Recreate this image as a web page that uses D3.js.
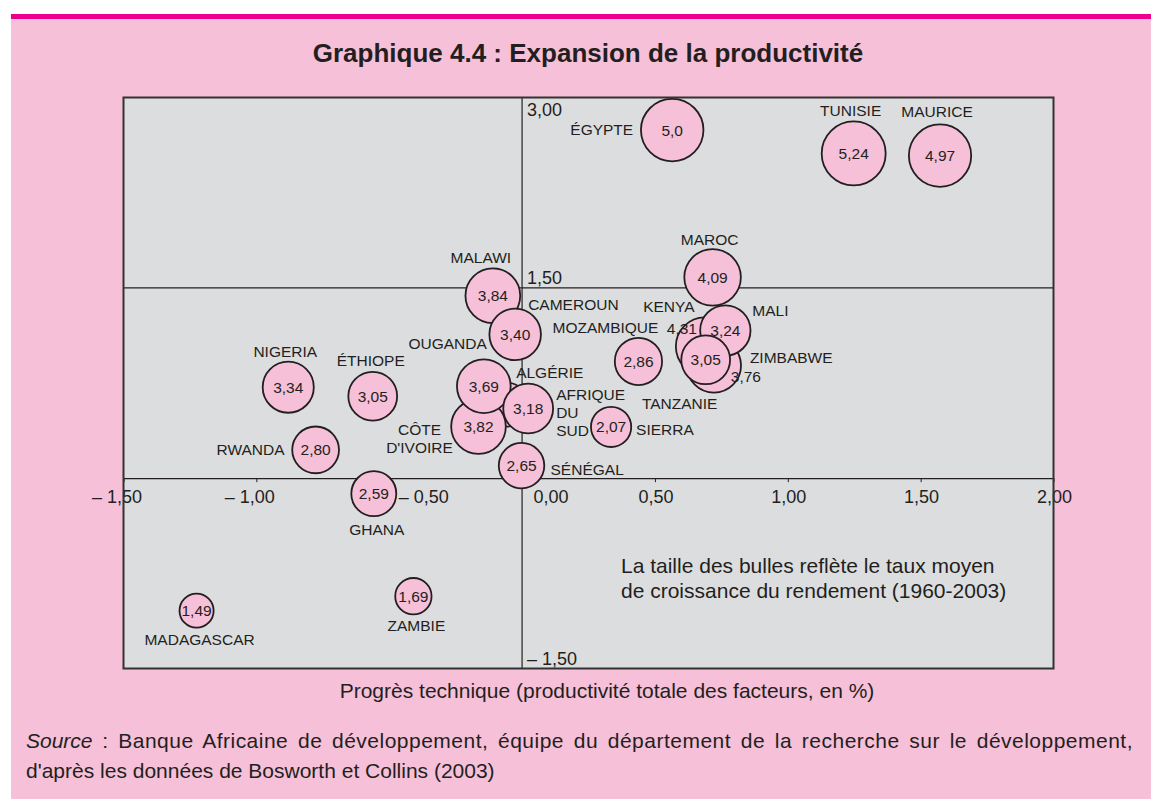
<!DOCTYPE html>
<html>
<head>
<meta charset="utf-8">
<script src="https://cdn.jsdelivr.net/npm/d3@7"></script>
<style>
  body { margin: 0; background: #fff; }
  svg text { font-family: "Liberation Sans", Arial, sans-serif; fill: #231f20; }
</style>
</head>
<body>
<div id="chart"></div>
<script>
// data
const countries = ["ALGÉRIE", "KENYA", "ZIMBABWE", "MALI", "TANZANIE", "ÉGYPTE", "TUNISIE", "MAURICE",
  "MAROC", "MALAWI", "CAMEROUN", "MOZAMBIQUE", "NIGERIA", "ÉTHIOPE", "CÔTE\nD'IVOIRE", "OUGANDA",
  "AFRIQUE\nDU\nSUD", "RWANDA", "SÉNÉGAL", "SIERRA", "GHANA", "MADAGASCAR", "ZAMBIE"];
// technical progress (TFP, %)
const tfp = [-0.06, 0.688, 0.722, 0.765, 0.691, 0.565, 1.248, 1.573,
  0.717, -0.11, -0.026, 0.438, -0.88, -0.562, -0.164, -0.144,
  0.023, -0.777, -0.002, 0.335, -0.558, -1.225, -0.409];
// vertical axis values
const capital = [0.58, 1.038, 0.888, 1.164, 0.933, 2.743, 2.559, 2.542,
  1.583, 1.438, 1.133, 0.92, 0.717, 0.646, 0.407, 0.725,
  0.549, 0.223, 0.099, 0.404, -0.122, -1.044, -0.93];
// average output growth 1960-2003 (bubble size)
const growth = [2.5, 4.31, 3.76, 3.24, 3.05, 5.0, 5.24, 4.97,
  4.09, 3.84, 3.40, 2.86, 3.34, 3.05, 3.82, 3.69,
  3.18, 2.80, 2.65, 2.07, 2.59, 1.49, 1.69];
const growthLabels = ["", "4,31", "3,76", "3,24", "3,05", "5,0", "5,24", "4,97",
  "4,09", "3,84", "3,40", "2,86", "3,34", "3,05", "3,82", "3,69",
  "3,18", "2,80", "2,65", "2,07", "2,59", "1,49", "1,69"];

const xTicks = [-1.5, -1, -0.5, 0, 0.5, 1, 1.5, 2];
const xTickLabels = ["– 1,50", "– 1,00", "– 0,50", "0,00", "0,50", "1,00", "1,50", "2,00"];
const yTicks = [3, 1.5, -1.5];
const yTickLabels = ["3,00", "1,50", "– 1,50"];

// label placement (pixels from bubble centre): [dx, dy, anchor]
const labelPos = {
  "ALGÉRIE": [10, -27, "start"], "KENYA": [-36, -34, "middle"], "ZIMBABWE": [36, -2, "start"],
  "MALI": [27, -14, "start"], "TANZANIE": [-26, 49, "middle"], "ÉGYPTE": [-39, 5, "end"],
  "TUNISIE": [-3, -37, "middle"], "MAURICE": [-3, -39, "middle"], "MAROC": [-3, -32, "middle"],
  "MALAWI": [-12, -33, "middle"], "CAMEROUN": [13, -24, "start"], "MOZAMBIQUE": [-33, -28, "middle"],
  "NIGERIA": [-3, -30, "middle"], "ÉTHIOPE": [-2, -30, "middle"], "CÔTE\nD'IVOIRE": [-59, 8, "middle"],
  "OUGANDA": [3, -37, "end"], "AFRIQUE\nDU\nSUD": [28, -9, "start"], "RWANDA": [-31, 5, "end"],
  "SÉNÉGAL": [29, 9, "start"], "SIERRA": [25, 8, "start"], "GHANA": [3, 41, "middle"],
  "MADAGASCAR": [3, 34, "middle"], "ZAMBIE": [3, 35, "middle"]
};
const valueShift = { "KENYA": [-23, -18], "ZIMBABWE": [32, 11] };
const xLabelShift = { "-0.5": 41, "0": 28 };

const width = 1151, height = 799;
const pink = "#f6c0d8", magenta = "#ec008c", ink = "#231f20";

const svg = d3.select("#chart").append("svg")
  .attr("width", width)
  .attr("height", height);

svg.append("rect").attr("x", 11).attr("y", 14).attr("width", width - 11).attr("height", height - 14).attr("fill", pink);
svg.append("rect").attr("x", 11).attr("y", 14).attr("width", width - 11).attr("height", 5).attr("fill", magenta);

svg.append("text")
  .attr("x", 588).attr("y", 62)
  .attr("text-anchor", "middle")
  .style("font-size", "26px").style("font-weight", "bold")
  .text("Graphique 4.4 : Expansion de la productivité");

const x = d3.scaleLinear().domain([-1.5, 2]).range([123.5, 1053.5]);
const y = d3.scaleLinear().domain([-1.5, 3]).range([668.5, 97.5]);
const r = d3.scaleSqrt().domain([0, 5.24]).range([0, 32]);

// plot background
svg.append("rect")
  .attr("x", x(-1.5)).attr("y", y(3))
  .attr("width", x(2) - x(-1.5)).attr("height", y(-1.5) - y(3))
  .attr("fill", "#dcdddf");

// reference lines
svg.append("line").attr("x1", x(-1.5)).attr("x2", x(2)).attr("y1", y(1.5)).attr("y2", y(1.5))
  .attr("stroke", ink).attr("stroke-width", 1.2);
svg.append("line").attr("x1", x(0)).attr("x2", x(0)).attr("y1", y(3)).attr("y2", y(-1.5))
  .attr("stroke", ink).attr("stroke-width", 1.2);

const xAxis = svg.append("g")
  .attr("transform", `translate(0,${y(0)})`)
  .call(d3.axisBottom(x).tickValues(xTicks).tickSize(4).tickSizeOuter(0)
    .tickFormat((d, i) => xTickLabels[i]));
xAxis.select(".domain").attr("stroke", ink).attr("stroke-width", 1.2);
xAxis.selectAll(".tick line").attr("stroke", ink);
xAxis.selectAll(".tick text")
  .attr("text-anchor", "end")
  .attr("x", d => 18 + (xLabelShift[String(d)] || 0))
  .attr("y", 25).attr("dy", null)
  .style("font-size", "18px").attr("fill", ink);

svg.selectAll(".ylab")
  .data(yTicks)
  .join("text")
  .attr("class", "ylab")
  .attr("x", x(0) + 5)
  .attr("y", d => d === 3 ? y(d) + 18 : y(d) - 4)
  .style("font-size", "18px")
  .text((d, i) => yTickLabels[i]);

// bubbles
const points = countries.map((c, i) => ({ name: c, tfp: tfp[i], cap: capital[i], g: growth[i], label: growthLabels[i] }));

const bubble = svg.selectAll(".bubble")
  .data(points)
  .join("g")
  .attr("class", "bubble")
  .attr("transform", d => `translate(${x(d.tfp)},${y(d.cap)})`);

bubble.append("circle")
  .attr("r", d => r(d.g))
  .attr("fill", pink)
  .attr("stroke", ink)
  .attr("stroke-width", 1.8);

bubble.append("text")
  .attr("text-anchor", "middle")
  .attr("x", d => (valueShift[d.name] || [0, 0])[0])
  .attr("y", d => (valueShift[d.name] || [0, 0])[1])
  .attr("dy", "0.35em")
  .style("font-size", "15.5px")
  .text(d => d.label);

// country names
const names = svg.selectAll(".name")
  .data(points)
  .join("text")
  .attr("class", "name")
  .attr("text-anchor", d => labelPos[d.name][2])
  .style("font-size", "15.5px");

names.selectAll("tspan")
  .data(d => d.name.split("\n").map((s, k) => ({ s, k, d })))
  .join("tspan")
  .attr("x", t => x(t.d.tfp) + labelPos[t.d.name][0])
  .attr("y", t => y(t.d.cap) + labelPos[t.d.name][1] + t.k * 18.3)
  .text(t => t.s);

// plot frame
svg.append("rect")
  .attr("x", x(-1.5)).attr("y", y(3))
  .attr("width", x(2) - x(-1.5)).attr("height", y(-1.5) - y(3))
  .attr("fill", "none").attr("stroke", "#333").attr("stroke-width", 2);

const note = svg.append("text").attr("x", 621).style("font-size", "21px");
note.append("tspan").attr("x", 621).attr("y", 573).text("La taille des bulles reflète le taux moyen");
note.append("tspan").attr("x", 621).attr("y", 598).text("de croissance du rendement (1960-2003)");

svg.append("text")
  .attr("x", 607).attr("y", 698)
  .attr("text-anchor", "middle")
  .style("font-size", "21px")
  .text("Progrès technique (productivité totale des facteurs, en %)");

// source, first line justified to the text block width
const source = svg.append("text").style("font-size", "21px");
const line1 = source.append("tspan").attr("x", 26).attr("y", 748);
line1.append("tspan").style("font-style", "italic").text("Source");
const rest = line1.append("tspan").text(" : Banque Africaine de développement, équipe du département de la recherche sur le développement,");
source.append("tspan").attr("x", 26).attr("y", 778)
  .text("d'après les données de Bosworth et Collins (2003)");

// spread the missing width over letters and word gaps
const line1Width = line1.node().getComputedTextLength();
const target = 1107;
const chars = rest.text().length;
const spaces = rest.text().split(" ").length - 1;
if (line1Width < target) {
  const extra = target - line1Width;
  const ls = (extra * 0.5) / chars;
  rest.style("letter-spacing", ls + "px")
    .style("word-spacing", ((extra * 0.5) / spaces) + "px");
}
</script>
</body>
</html>
